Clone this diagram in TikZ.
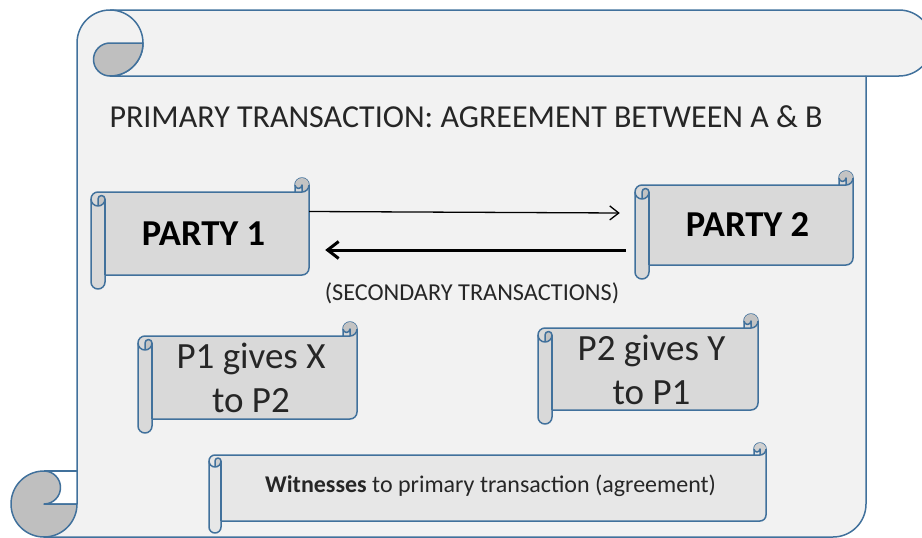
\documentclass[tikz,border=0pt]{standalone}
\usepackage{fontspec}
\setmainfont{Carlito}
\usetikzlibrary{arrows.meta}

\definecolor{scrollblue}{RGB}{65,113,156}
\definecolor{paper}{RGB}{242,242,242}
\definecolor{curl}{RGB}{191,191,191}
\definecolor{tagfill}{RGB}{217,217,217}
\definecolor{tagpale}{RGB}{231,231,231}
\definecolor{ink}{RGB}{38,38,38}

% small horizontal scroll: left, top, right, bottom, roll size, fill
\newcommand{\tagscroll}[6]{%
  \pgfmathsetmacro{\scL}{#1}\pgfmathsetmacro{\scT}{#2}%
  \pgfmathsetmacro{\scR}{#3}\pgfmathsetmacro{\scB}{#4}%
  \pgfmathsetmacro{\scC}{#5}\pgfmathsetmacro{\scH}{#5/2}\pgfmathsetmacro{\scQ}{#5/4}%
  \pgfmathsetmacro{\scXa}{#3-#5}\pgfmathsetmacro{\scXb}{#3-#5/2}%
  \pgfmathsetmacro{\scYa}{#2+1.5*#5}\pgfmathsetmacro{\scYb}{#2+2*#5}%
  \pgfmathsetmacro{\scYc}{#4-#5}%
  \filldraw[scroll, fill=#6] (\scL,\scYa) arc[start angle=180,end angle=90,radius=\scH pt]
    -- (\scXa,{\scT+\scC}) -- (\scXa,{\scT+\scH}) arc[start angle=180,end angle=0,radius=\scH pt]
    -- (\scR,{\scYc-\scH}) arc[start angle=0,end angle=-90,radius=\scH pt]
    -- ({\scL+\scC},\scYc) -- ({\scL+\scC},{\scB-\scH}) arc[start angle=0,end angle=-180,radius=\scH pt]
    -- cycle;
  % curls
  \fill[#6!90!black] (\scXb,{\scT+\scC}) arc[start angle=-90,end angle=180,radius=\scH pt]
    arc[start angle=180,end angle=360,radius=\scQ pt] -- cycle;
  \fill[#6!90!black] ({\scL+\scH},\scYb) arc[start angle=-90,end angle=0,radius=\scH pt]
    arc[start angle=0,end angle=180,radius=\scQ pt] -- cycle;
  \draw[scroll] (\scXa,{\scT+\scC}) -- (\scXb,{\scT+\scC}) arc[start angle=-90,end angle=0,radius=\scH pt];
  \draw[scroll] (\scXb,{\scT+\scC}) -- (\scXb,{\scT+\scH}) arc[start angle=0,end angle=-180,radius=\scQ pt];
  \draw[scroll] ({\scL+\scH},\scYb) -- ({\scL+\scH},\scYa) arc[start angle=180,end angle=0,radius=\scQ pt]
    arc[start angle=0,end angle=-180,radius=\scH pt];
  \draw[scroll] ({\scL+\scC},\scYa) -- ({\scL+\scC},\scYc);
}

\begin{document}
\begin{tikzpicture}[x=1pt, y=-1pt,
  scroll/.style={draw=scrollblue, line width=1.5pt, line join=round},
  headtext/.style={font=\fontsize{32}{38}\selectfont, text=ink, inner sep=0pt},
  partytext/.style={font=\bfseries\fontsize{36.5}{44}\selectfont, text=black, inner sep=0pt},
  givetext/.style={font=\fontsize{37}{44}\selectfont, text=ink, align=center, inner sep=0pt},
  notetext/.style={font=\fontsize{24.3}{29}\selectfont, text=ink, inner sep=0pt},
  witnesstext/.style={font=\fontsize{24}{29}\selectfont, text=ink, inner sep=0pt},
  thinarrow/.style={-{Straight Barb[length=9pt,width=14pt]}, line width=1.3pt},
  thickarrow/.style={-{Straight Barb[length=11pt,width=17pt]}, line width=3pt}]
  \useasboundingbox (0,0) rectangle (922,538);
  \clip (0,0) rectangle (922,538);

  % big vertical scroll
  \filldraw[scroll, fill=paper] (77,504) -- (77,43) arc[start angle=180,end angle=90,radius=33pt]
    -- (899,10) arc[start angle=90,end angle=-90,radius=33pt]
    -- (866,76) -- (866,504) arc[start angle=0,end angle=-90,radius=33pt]
    -- (44,537) -- (44,504) -- cycle;
  \draw[scroll] (110,10) arc[start angle=90,end angle=-90,radius=33pt] -- (866,76);
  \filldraw[scroll, fill=curl] (110,43) -- (143,43) arc[start angle=0,end angle=-90,radius=33pt]
    arc[start angle=-90,end angle=-270,radius=16.5pt] -- cycle;
  \filldraw[scroll, fill=curl] (44,504) -- (77,504) arc[start angle=0,end angle=-270,radius=33pt]
    arc[start angle=90,end angle=-90,radius=16.5pt] -- cycle;
  \draw[scroll] (44,471) -- (77,471);

  % small scrolls
  \tagscroll{91}{178}{309}{289}{14}{tagfill}
  \tagscroll{635}{171}{853}{279}{14}{tagfill}
  \tagscroll{138}{322}{357}{433}{14}{tagfill}
  \tagscroll{538}{314}{758}{424}{14}{tagfill}
  \tagscroll{209}{443}{766}{533}{12}{tagpale}

  \node[headtext] (title) at (466,117) {PRIMARY TRANSACTION: AGREEMENT BETWEEN A \& B};
  \node[partytext, minimum width=211pt, minimum height=83pt] (party1) at (203.5,233.5) {PARTY 1};
  \node[partytext, minimum width=211pt, minimum height=80pt] (party2) at (747.5,225) {PARTY 2};
  \node[notetext] (secondary) at (472,293) {(SECONDARY TRANSACTIONS)};
  \node[givetext] (give1) at (251,378) {P1 gives X\\to P2};
  \node[givetext] (give2) at (651.5,370) {P2 gives Y\\to P1};
  \node[witnesstext] (witness) at (490.5,486) {\textbf{Witnesses} to primary transaction (agreement)};

  \draw[thinarrow] ([yshift=22pt]party1.east) -- ([xshift=-22pt,yshift=12pt]party2.west);
  \draw[thickarrow] ([xshift=-16pt,yshift=-25pt]party2.west) -- ([xshift=16pt,yshift=-16.5pt]party1.east);
\end{tikzpicture}
\end{document}
